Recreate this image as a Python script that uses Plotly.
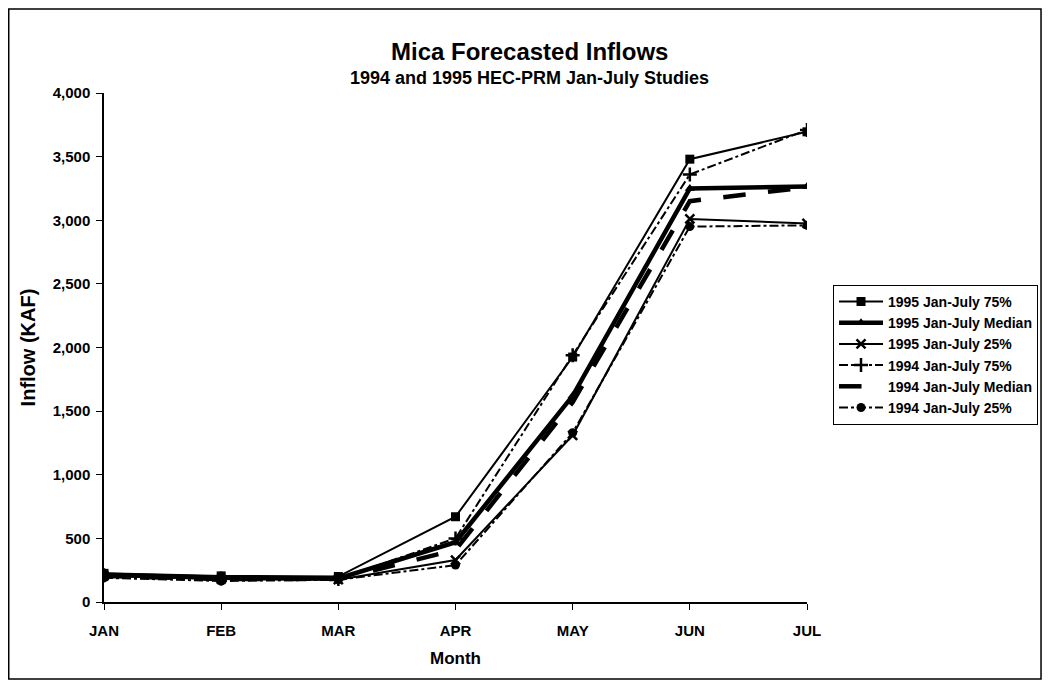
import plotly.graph_objects as go

months = ["JAN", "FEB", "MAR", "APR", "MAY", "JUN", "JUL"]
s95_75 = [225, 205, 200, 670, 1925, 3480, 3695]
s95_med = [215, 190, 185, 470, 1620, 3250, 3265]
s95_25 = [205, 180, 175, 330, 1310, 3010, 2975]
s94_75 = [210, 185, 180, 500, 1940, 3360, 3710]
s94_med = [205, 180, 180, 410, 1570, 3150, 3260]
s94_25 = [190, 165, 175, 290, 1330, 2950, 2960]

names = ["1995 Jan-July 75%", "1995 Jan-July Median", "1995 Jan-July 25%",
         "1994 Jan-July 75%", "1994 Jan-July Median", "1994 Jan-July 25%"]
series = [s95_75, s95_med, s95_25, s94_75, s94_med, s94_25]
styles = [
    dict(line=dict(color="black", width=2, dash="solid"), mode="lines+markers",
         marker=dict(symbol="square", size=9, color="black")),
    dict(line=dict(color="black", width=4.5, dash="solid"), mode="lines+markers",
         marker=dict(symbol="triangle-up", size=9, color="black")),
    dict(line=dict(color="black", width=2, dash="solid"), mode="lines+markers",
         marker=dict(symbol="x-thin", size=9, color="black", line=dict(width=2.5, color="black"))),
    dict(line=dict(color="black", width=2, dash="dashdot"), mode="lines+markers",
         marker=dict(symbol="cross-thin", size=10, color="black", line=dict(width=2.5, color="black"))),
    dict(line=dict(color="black", width=4.5, dash="longdash"), mode="lines"),
    dict(line=dict(color="black", width=2, dash="dashdot"), mode="lines+markers",
         marker=dict(symbol="circle", size=9, color="black")),
]

fig = go.Figure()
xi = list(range(len(months)))
for n, s, st in zip(names, series, styles):
    fig.add_trace(go.Scatter(x=xi, y=s, name="<b>" + n + "</b>", **st))

font = "Liberation Sans, Arial, sans-serif"
fig.update_layout(
    width=1051, height=681,
    margin=dict(l=96, r=252, t=85, b=87),
    paper_bgcolor="white", plot_bgcolor="white",
    font=dict(family=font, color="black", size=14),
    showlegend=True,
    legend=dict(x=1.037, y=0.623, xanchor="left", yanchor="top",
                bordercolor="black", borderwidth=1, bgcolor="white", itemwidth=44,
                font=dict(size=14, family=font), tracegroupgap=0),
    annotations=[
        dict(text="<b>Mica Forecasted Inflows</b>", x=0.6046, y=1.0825, xref="paper", yref="paper",
             xanchor="center", yanchor="middle", showarrow=False,
             font=dict(size=24, family=font)),
        dict(text="<b>1994 and 1995 HEC-PRM Jan-July Studies</b>", x=0.6046, y=1.0295, xref="paper",
             yref="paper", xanchor="center", yanchor="middle", showarrow=False,
             font=dict(size=18, family=font)),
    ],
    shapes=[dict(type="rect", xref="paper", yref="paper", x0=-0.1355, x1=1.3329,
                 y0=-0.1513, y1=1.165, line=dict(color="black", width=1.5))],
)
fig.update_xaxes(
    range=[0, 6], tickmode="array", tickvals=xi, ticktext=["<b>" + m + "</b>" for m in months],
    showline=True, linecolor="black", linewidth=1.5, showgrid=False, zeroline=False,
    ticks="outside", ticklen=6, tickcolor="black", ticklabelstandoff=8,
    tickfont=dict(size=15, family=font),
    title=dict(text="<b>Month</b>", font=dict(size=17, family=font), standoff=14),
)
yvals = [0, 500, 1000, 1500, 2000, 2500, 3000, 3500, 4000]
fig.update_yaxes(
    range=[0, 4000], tickmode="array", tickvals=yvals,
    ticktext=["<b>" + f"{v:,}" + "</b>" for v in yvals],
    showline=True, linecolor="black", linewidth=1.5, showgrid=False,
    zeroline=False, ticks="outside", ticklen=6, tickcolor="black", ticklabelstandoff=3,
    tickfont=dict(size=15, family=font),
    title=dict(text="<b>Inflow (KAF)</b>", font=dict(size=20, family=font), standoff=12),
)
fig.write_html("out.html")
